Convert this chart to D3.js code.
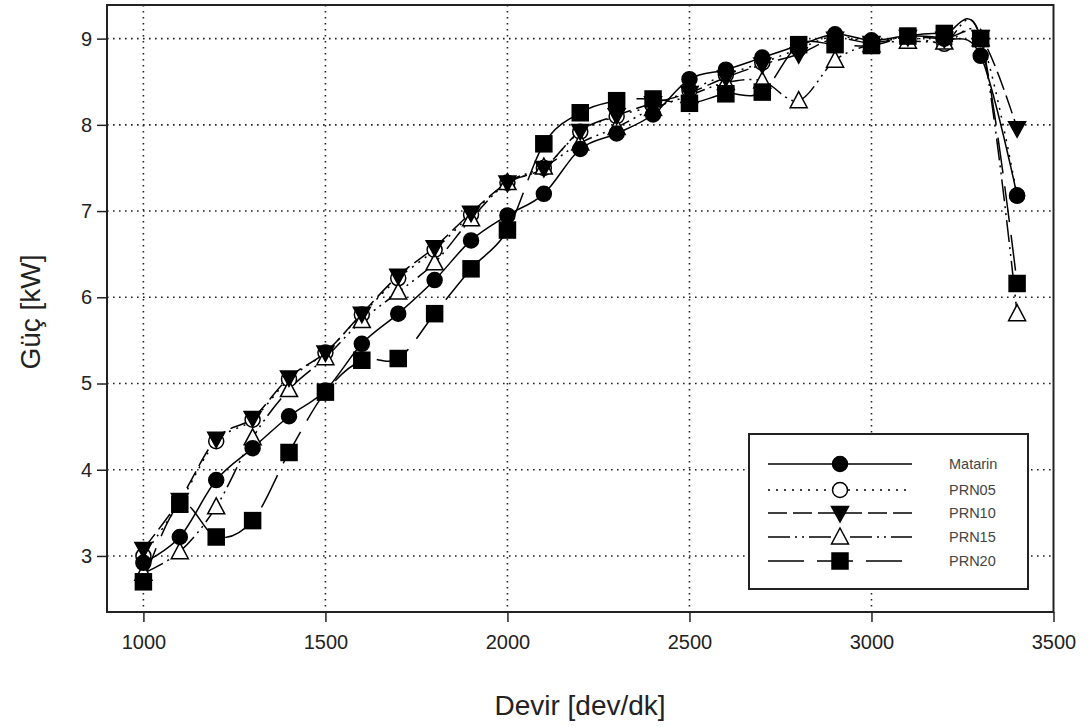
<!DOCTYPE html>
<html>
<head>
<meta charset="utf-8">
<script src="https://cdn.jsdelivr.net/npm/d3@7/dist/d3.min.js"></script>
<style>
  html, body { margin: 0; padding: 0; background: #fff; }
  svg { display: block; font-family: "Liberation Sans", Arial, sans-serif; }
</style>
</head>
<body>
<svg id="chart" width="1088" height="727"></svg>
<script>
// Engine speed (rpm) and brake power (kW) for each fuel blend
const rpm = [1000, 1100, 1200, 1300, 1400, 1500, 1600, 1700, 1800, 1900, 2000, 2100, 2200,
             2300, 2400, 2500, 2600, 2700, 2800, 2900, 3000, 3100, 3200, 3300, 3400];

const motorin = [2.92, 3.22, 3.88, 4.25, 4.62, 4.92, 5.46, 5.81, 6.20, 6.66, 6.95, 7.20, 7.72,
                 7.90, 8.12, 8.53, 8.64, 8.78, 8.92, 9.05, 8.98, 9.03, 9.00, 8.80, 7.18];
const prn05   = [3.00, 3.62, 4.33, 4.58, 5.05, 5.36, 5.80, 6.22, 6.55, 6.96, 7.33, 7.50, 7.92,
                 8.10, 8.22, 8.40, 8.58, 8.72, 8.88, 9.03, 8.96, 9.02, 8.94, 9.00, 7.18];
const prn10   = [3.08, 3.65, 4.36, 4.60, 5.07, 5.36, 5.81, 6.25, 6.58, 6.98, 7.33, 7.50, 7.93,
                 8.11, 8.25, 8.37, 8.55, 8.70, 8.82, 9.00, 8.95, 9.02, 9.00, 9.02, 7.96];
const prn15   = [2.80, 3.05, 3.57, 4.37, 4.93, 5.30, 5.73, 6.06, 6.40, 6.91, 7.33, 7.51, 7.79,
                 7.97, 8.19, 8.34, 8.49, 8.51, 8.28, 8.75, 8.93, 8.97, 8.96, 9.00, 5.81];
const prn20   = [2.70, 3.60, 3.22, 3.41, 4.20, 4.90, 5.27, 5.29, 5.81, 6.33, 6.78, 7.78, 8.14,
                 8.28, 8.30, 8.25, 8.36, 8.38, 8.93, 8.93, 8.92, 9.03, 9.06, 9.00, 6.16];

const seriesNames = ["Matarin", "PRN05", "PRN10", "PRN15", "PRN20"];
const seriesValues = [motorin, prn05, prn10, prn15, prn20];

const xTicks = [1000, 1500, 2000, 2500, 3000, 3500];
const yTicks = [3, 4, 5, 6, 7, 8, 9];

// Drawing styles per series: dash pattern and marker
const styles = [
  { dash: null,                 marker: "circle",  fill: "#000" },
  { dash: "2,6",                marker: "circle",  fill: "#fff" },
  { dash: "19,6",               marker: "tdown",   fill: "#000" },
  { dash: "22,5,2,5,2,5",       marker: "tup",     fill: "#fff" },
  { dash: "36,13",              marker: "square",  fill: "#000" }
];
// open markers first, filled markers on top
const markerOrder = [1, 3, 2, 0, 4];

const svg = d3.select("#chart");
svg.append("rect").attr("width", 1088).attr("height", 727).attr("fill", "#fff");

const box = { left: 107, right: 1053.5, top: 5, bottom: 612 };

const x = d3.scaleLinear().domain([900, 3500]).range([box.left, box.right]);
const y = d3.scaleLinear().domain([2.35, 9.39]).range([box.bottom, box.top]);

// Dotted grid
const grid = svg.append("g");
grid.selectAll("line.gx").data(xTicks.filter(d => d < 3500)).join("line")
  .attr("x1", d => x(d)).attr("x2", d => x(d))
  .attr("y1", box.top).attr("y2", box.bottom)
  .attr("stroke", "#222").attr("stroke-width", 1.6).attr("stroke-dasharray", "1.6,4.4");
grid.selectAll("line.gy").data(yTicks).join("line")
  .attr("x1", box.left).attr("x2", box.right)
  .attr("y1", d => y(d)).attr("y2", d => y(d))
  .attr("stroke", "#222").attr("stroke-width", 1.6).attr("stroke-dasharray", "1.6,4.4");

// Axes
const xAxis = svg.append("g").attr("transform", `translate(0,${box.bottom})`)
  .call(d3.axisBottom(x).tickValues(xTicks).tickSize(10).tickPadding(13).tickFormat(d3.format("d")));
const yAxis = svg.append("g").attr("transform", `translate(${box.left},0)`)
  .call(d3.axisLeft(y).tickValues(yTicks).tickSize(10).tickPadding(5).tickFormat(d3.format("d")));
[xAxis, yAxis].forEach(a => {
  a.select(".domain").remove();
  a.selectAll(".tick line").attr("stroke", "#222").attr("stroke-width", 1.5);
  a.selectAll(".tick text").attr("fill", "#222").style("font-size", "20px")
    .style("font-family", "'Liberation Sans', Arial, sans-serif");
});

// Plot frame
svg.append("rect")
  .attr("x", box.left).attr("y", box.top)
  .attr("width", box.right - box.left).attr("height", box.bottom - box.top)
  .attr("fill", "none").attr("stroke", "#222").attr("stroke-width", 2);

// Axis titles
svg.append("text").attr("x", 580).attr("y", 715).attr("text-anchor", "middle")
  .attr("fill", "#222").style("font-size", "28px").text("Devir [dev/dk]");
svg.append("text").attr("transform", "translate(40,312) rotate(-90)").attr("text-anchor", "middle")
  .attr("fill", "#222").style("font-size", "28px").text("Güç [kW]");

// Marker drawing helper
function drawMarker(g, kind, fill) {
  const sw = 1.5;
  if (kind === "circle") {
    g.append("circle").attr("r", 7.5).attr("fill", fill).attr("stroke", "#000").attr("stroke-width", sw);
  } else if (kind === "square") {
    g.append("rect").attr("x", -8).attr("y", -8).attr("width", 16).attr("height", 16)
      .attr("fill", fill).attr("stroke", "#000").attr("stroke-width", sw);
  } else if (kind === "tdown") {
    g.append("path").attr("d", "M-8.5,-6.5 L8.5,-6.5 L0,9 Z")
      .attr("fill", fill).attr("stroke", "#000").attr("stroke-width", sw);
  } else if (kind === "tup") {
    g.append("path").attr("d", "M-8.5,7 L8.5,7 L0,-9 Z")
      .attr("fill", fill).attr("stroke", "#000").attr("stroke-width", sw).attr("stroke-linejoin", "miter");
  }
}

// Series curves (uniform Catmull-Rom spline through the measured points)
const line = d3.line()
  .x(d => x(d[0])).y(d => y(d[1]))
  .curve(d3.curveCatmullRom.alpha(0));

const plot = svg.append("g");
seriesValues.forEach((vals, i) => {
  const pts = rpm.map((r, k) => [r, vals[k]]);
  plot.append("path").datum(pts)
    .attr("d", line)
    .attr("fill", "none").attr("stroke", "#000").attr("stroke-width", 1.5)
    .attr("stroke-dasharray", styles[i].dash);
});
markerOrder.forEach(i => {
  const pts = rpm.map((r, k) => [r, seriesValues[i][k]]);
  const mg = plot.append("g");
  pts.forEach(p => {
    const g = mg.append("g").attr("transform", `translate(${x(p[0])},${y(p[1])})`);
    drawMarker(g, styles[i].marker, styles[i].fill);
  });
});

// Legend
const lg = svg.append("g");
lg.append("rect").attr("x", 749).attr("y", 434).attr("width", 279).attr("height", 155)
  .attr("fill", "#fff").attr("stroke", "#222").attr("stroke-width", 2);
const rowY = [464, 490, 513, 537, 561];
seriesNames.forEach((name, i) => {
  lg.append("line").attr("x1", 768).attr("x2", 912).attr("y1", rowY[i]).attr("y2", rowY[i])
    .attr("stroke", "#000").attr("stroke-width", 1.5).attr("stroke-dasharray", styles[i].dash);
  const g = lg.append("g").attr("transform", `translate(840,${rowY[i]})`);
  drawMarker(g, styles[i].marker, styles[i].fill);
  lg.append("text").attr("x", 949).attr("y", rowY[i]).attr("dy", "0.35em")
    .attr("fill", "#444").style("font-size", "14.5px").text(name);
});
</script>
</body>
</html>
